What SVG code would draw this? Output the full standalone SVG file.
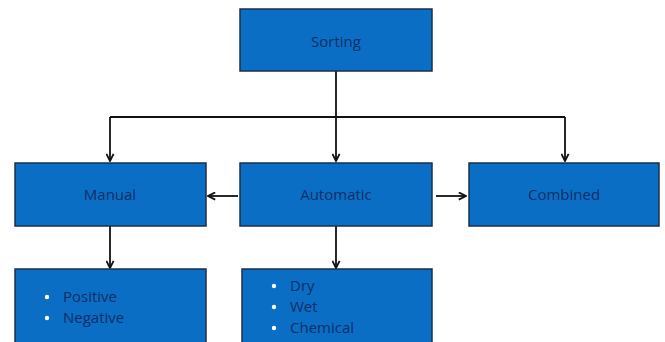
<svg xmlns="http://www.w3.org/2000/svg" width="665" height="342" viewBox="0 0 665 342">
<style>
.box{fill:#0a6fc4;stroke:#1b2f4a;stroke-width:1.5}
.t{font-family:"Open Sans","Liberation Sans",sans-serif;font-size:15px;fill:#0f2d66;text-anchor:middle}
.l{font-family:"Open Sans","Liberation Sans",sans-serif;font-size:15px;fill:#0f2d66}
.b{fill:#ffffff}
.c{fill:none;stroke:#111;stroke-width:1.8}
</style>
<defs>
<marker id="a" viewBox="0 0 10 10" refX="9" refY="5" markerWidth="9" markerHeight="9" orient="auto" markerUnits="userSpaceOnUse">
<path d="M1,1 L9,5 L1,9" fill="none" stroke="#111" stroke-width="2"/>
</marker>
</defs>
<g id="connectors">
<path class="c" d="M336,71 V161" marker-end="url(#a)"/>
<path class="c" d="M110,117 H565"/>
<path class="c" d="M110,117 V161" marker-end="url(#a)"/>
<path class="c" d="M565,117 V161" marker-end="url(#a)"/>
<path class="c" d="M238,196 H208" marker-end="url(#a)"/>
<path class="c" d="M436,196 H466" marker-end="url(#a)"/>
<path class="c" d="M110,226 V268" marker-end="url(#a)"/>
<path class="c" d="M336,226 V268" marker-end="url(#a)"/>
</g>
<g id="sorting"><rect class="box" x="240" y="9" width="192" height="62"/><text class="t" x="336" y="47">Sorting</text></g>
<g id="manual"><rect class="box" x="15" y="163" width="191" height="63"/><text class="t" x="110" y="200">Manual</text></g>
<g id="automatic"><rect class="box" x="240" y="163" width="192" height="63"/><text class="t" x="336" y="200">Automatic</text></g>
<g id="combined"><rect class="box" x="469" y="163" width="190" height="63"/><text class="t" x="564" y="200">Combined</text></g>
<g id="manual-types"><rect class="box" x="15" y="269" width="191" height="80"/>
<circle class="b" cx="47" cy="297" r="2.2"/><text class="l" x="63" y="302">Positive</text>
<circle class="b" cx="47" cy="318" r="2.2"/><text class="l" x="63" y="323">Negative</text></g>
<g id="automatic-types"><rect class="box" x="242" y="269" width="190" height="80"/>
<circle class="b" cx="274" cy="286" r="2.2"/><text class="l" x="290" y="291">Dry</text>
<circle class="b" cx="274" cy="307" r="2.2"/><text class="l" x="290" y="312">Wet</text>
<circle class="b" cx="274" cy="328" r="2.2"/><text class="l" x="290" y="333">Chemical</text></g>
</svg>
